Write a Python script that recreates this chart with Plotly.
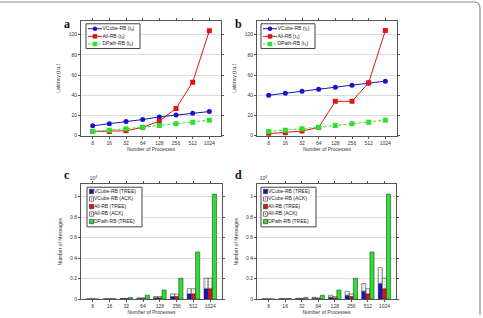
import plotly.graph_objects as go

procs = ["8", "16", "32", "64", "128", "256", "512", "1024"]

# Panel a: latency (t0)
a_vcube = [9.8, 11.8, 14.0, 16.0, 18.6, 20.6, 22.2, 23.9]
a_all = [4.2, 4.2, 4.9, 8.2, 14.4, 27.0, 53.0, 103.8]
a_dpath = [4.2, 5.3, 6.9, 8.4, 10.1, 11.8, 13.4, 15.4]

# Panel b: latency (t1)
b_vcube = [40.0, 42.0, 44.0, 46.0, 48.0, 50.0, 52.0, 54.0]
b_all = [2.0, 3.0, 4.6, 8.2, 34.0, 34.0, 52.5, 104.0]
b_dpath = [4.2, 5.3, 6.9, 8.4, 10.1, 11.8, 13.4, 15.4]

# Panel c: number of messages (x 10^4)
c_vcube_tree = [0.0007, 0.0015, 0.0031, 0.0063, 0.0127, 0.0255, 0.0511, 0.1023]
c_vcube_ack = [0.0007, 0.0015, 0.0031, 0.0063, 0.0127, 0.0255, 0.0511, 0.1023]
c_all_tree = [0.0007, 0.0015, 0.0031, 0.0063, 0.0127, 0.0255, 0.0511, 0.1023]
c_all_ack = [0.0007, 0.0015, 0.0031, 0.0063, 0.0127, 0.0255, 0.0511, 0.1023]
c_dpath_tree = [0.0024, 0.0064, 0.016, 0.0384, 0.0896, 0.2048, 0.4608, 1.024]

# Panel d: number of messages (x 10^4)
d_vcube_tree = [0.0010, 0.0022, 0.0046, 0.0094, 0.0190, 0.0382, 0.0766, 0.1534]
d_vcube_ack = [0.0010, 0.0022, 0.0046, 0.0094, 0.0190, 0.0382, 0.0766, 0.1534]
d_all_tree = [0.0007, 0.0015, 0.0031, 0.0063, 0.0127, 0.0255, 0.0511, 0.1023]
d_all_ack = [0.0007, 0.0015, 0.0031, 0.0063, 0.0127, 0.0255, 0.0511, 0.1023]
d_dpath_tree = [0.0024, 0.0064, 0.016, 0.0384, 0.0896, 0.2048, 0.4608, 1.024]

line_names_a = ["VCube-RB (t<sub>0</sub>)", "All-RB (t<sub>0</sub>)", "DPath-RB (t<sub>0</sub>)"]
line_names_b = ["VCube-RB (t<sub>1</sub>)", "All-RB (t<sub>1</sub>)", "DPath-RB (t<sub>1</sub>)"]
bar_names = ["VCube-RB (TREE)", "VCube-RB (ACK)", "All-RB (TREE)", "All-RB (ACK)", "DPath-RB (TREE)"]

BLUE = "#1414c8"
RED = "#e01414"
GREEN = "#2ee02e"
FONT = "Liberation Sans"

fig = go.Figure()

W, H = 483, 318
def px(x): return x / W
def py(y): return 1 - y / H

doms = {
    "a": ([px(81), px(221)], [py(137), py(21)]),
    "b": ([px(257), px(397)], [py(137), py(21)]),
    "c": ([px(81), px(222)], [py(302), py(186)]),
    "d": ([px(257), px(396)], [py(302), py(186)]),
}
axn = {"a": ("x", "y", "xaxis", "yaxis"),
       "b": ("x2", "y2", "xaxis2", "yaxis2"),
       "c": ("x3", "y3", "xaxis3", "yaxis3"),
       "d": ("x4", "y4", "xaxis4", "yaxis4")}

def line_traces(key, vc, al, dp, names):
    xa, ya, _, _ = axn[key]
    fig.add_trace(go.Scatter(x=procs, y=vc, mode="lines+markers", name=names[0],
                             line=dict(color=BLUE, width=1), marker=dict(symbol="circle", size=5, color=BLUE),
                             xaxis=xa, yaxis=ya))
    fig.add_trace(go.Scatter(x=procs, y=al, mode="lines+markers", name=names[1],
                             line=dict(color=RED, width=1), marker=dict(symbol="square", size=5, color=RED),
                             xaxis=xa, yaxis=ya))
    fig.add_trace(go.Scatter(x=procs, y=dp, mode="lines+markers", name=names[2],
                             line=dict(color=GREEN, width=1, dash="3px,2px"),
                             marker=dict(symbol="square", size=5, color=GREEN),
                             xaxis=xa, yaxis=ya))

EDGE = dict(color="#222", width=0.5)
PAT = dict(shape=".", fgcolor="#666", bgcolor="white", size=3, solidity=0.25)

def bar_traces(key, vt, va, at, aa, dt):
    xa, ya, _, _ = axn[key]
    fig.add_trace(go.Bar(x=procs, y=vt, name=bar_names[0], offsetgroup="v",
                         marker=dict(color=BLUE, line=EDGE), xaxis=xa, yaxis=ya))
    fig.add_trace(go.Bar(x=procs, y=va, base=vt, name=bar_names[1], offsetgroup="v",
                         marker=dict(color="white", line=EDGE, pattern=PAT), xaxis=xa, yaxis=ya))
    fig.add_trace(go.Bar(x=procs, y=at, name=bar_names[2], offsetgroup="a",
                         marker=dict(color=RED, line=EDGE), xaxis=xa, yaxis=ya))
    fig.add_trace(go.Bar(x=procs, y=aa, base=at, name=bar_names[3], offsetgroup="a",
                         marker=dict(color="white", line=EDGE, pattern=PAT), xaxis=xa, yaxis=ya))
    fig.add_trace(go.Bar(x=procs, y=dt, name=bar_names[4], offsetgroup="d",
                         marker=dict(color=GREEN, line=EDGE), xaxis=xa, yaxis=ya))

line_traces("a", a_vcube, a_all, a_dpath, line_names_a)
line_traces("b", b_vcube, b_all, b_dpath, line_names_b)
bar_traces("c", c_vcube_tree, c_vcube_ack, c_all_tree, c_all_ack, c_dpath_tree)
bar_traces("d", d_vcube_tree, d_vcube_ack, d_all_tree, d_all_ack, d_dpath_tree)

tickfont = dict(family=FONT, size=5, color="#333")
for key, (xd, yd) in doms.items():
    xa, ya, xk, yk = axn[key]
    top = key in ("a", "b")
    fig.layout[xk] = dict(domain=xd, anchor=ya, type="category", range=[-0.7, 7.7],
                          showline=True, linecolor="#555", linewidth=1, mirror="ticks",
                          ticks="outside", ticklen=2, tickcolor="#555", showgrid=False,
                          tickfont=tickfont,
                          title=dict(text="Number of Processes", font=tickfont, standoff=2))
    if top:
        ydict = dict(range=[0, 113.7], tickvals=[0, 20, 40, 60, 80, 100],
                     title=dict(text="Latency (t.u.)", font=tickfont, standoff=7))
    else:
        ydict = dict(range=[0, 1.12], tickvals=[0, 0.2, 0.4, 0.6, 0.8, 1.0],
                     ticktext=["0", "0.2", "0.4", "0.6", "0.8", "1"],
                     title=dict(text="Number of Messages", font=tickfont, standoff=7))
    ydict.update(domain=yd, anchor=xa, showline=True, linecolor="#555", linewidth=1, mirror="ticks",
                 ticks="outside", ticklen=2, tickcolor="#555", showgrid=True, gridcolor="#dcdcdc",
                 gridwidth=1, zeroline=False, tickfont=tickfont)
    fig.layout[yk] = ydict

# overlay pixel-space axes for legends (drawn above the four panels)
fig.layout["xaxis5"] = dict(domain=[0, 1], range=[0, W], visible=False, fixedrange=True, anchor="y5")
fig.layout["yaxis5"] = dict(domain=[0, 1], range=[H, 0], visible=False, fixedrange=True, anchor="x5")

def ov(**kw):
    fig.add_trace(go.Scatter(xaxis="x5", yaxis="y5", hoverinfo="skip", showlegend=False, **kw))

def box(x0, y0, x1, y1, fill, lc, lw):
    ov(x=[x0, x1, x1, x0, x0], y=[y0, y0, y1, y1, y0], mode="lines", fill="toself",
       fillcolor=fill, line=dict(color=lc, width=lw))

def label(t, x, y):
    ov(x=[x], y=[y], mode="text", text=[t], textposition="middle right",
       textfont=dict(family=FONT, size=5, color="#222"))

def line_legend(x0, names):
    box(x0, 24, x0 + 54, 49, "white", "#444", 1)
    specs = [(BLUE, "circle", "solid"), (RED, "square", "solid"), (GREEN, "square", "2px,1.5px")]
    for i, (c, sym, dash) in enumerate(specs):
        y = 29 + 7.7 * i
        ov(x=[x0 + 2, x0 + 16], y=[y, y], mode="lines", line=dict(color=c, width=1, dash=dash))
        ov(x=[x0 + 9], y=[y], mode="markers", marker=dict(symbol=sym, size=4.5, color=c, line=dict(width=0)))
        label(names[i], x0 + 16.5, y)

def bar_legend(x0):
    box(x0, 189, x0 + 55, 229, "white", "#444", 1)
    fills = [BLUE, "white", RED, "white", GREEN]
    for i, f in enumerate(fills):
        y = 193.3 + 7.6 * i
        box(x0 + 2.5, y - 2.2, x0 + 6.5, y + 2.2, f, "#222", 0.6)
        if f == "white":
            box(x0 + 4, y - 0.6, x0 + 5, y + 0.4, "#777", "#777", 0.3)
        label(bar_names[i], x0 + 7, y)

line_legend(86, line_names_a)
line_legend(261, line_names_b)
bar_legend(87)
bar_legend(261)

panel_labels = [("a", 62, 15), ("b", 238, 15), ("c", 62, 177), ("d", 238, 177)]
for t, x, y in panel_labels:
    fig.add_annotation(text=f"<b>{t}</b>", x=px(x), y=py(y), xref="paper", yref="paper",
                       showarrow=False, font=dict(family="Liberation Serif", size=12, color="#111"))
for x in (86, 262):
    fig.add_annotation(text="·10<sup>4</sup>", x=px(x), y=py(180), xref="paper", yref="paper",
                       showarrow=False, font=dict(family=FONT, size=5, color="#333"))

fig.add_shape(type="path", xref="paper", yref="paper",
              path=f"M 0,{py(2)} L {px(474)},{py(2)} Q {px(480)},{py(2)} {px(480)},{py(8)} L {px(480)},0",
              line=dict(color="#8a8a8a", width=1.2))

fig.update_layout(width=W, height=H, margin=dict(l=0, r=0, t=0, b=0),
                  paper_bgcolor="white", plot_bgcolor="rgba(0,0,0,0)",
                  barmode="group", bargap=0.25, bargroupgap=0, showlegend=False)

fig.write_html("out.html")
